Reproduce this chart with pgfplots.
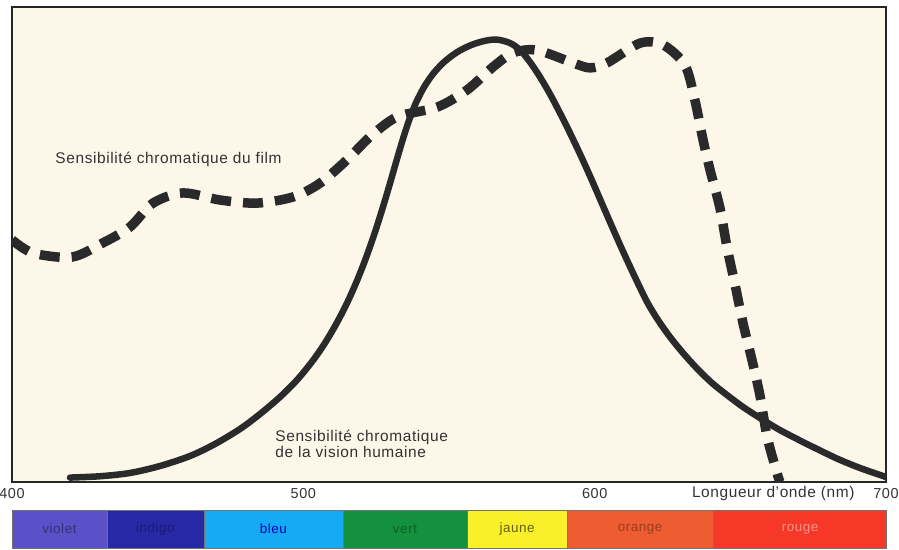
\documentclass[border=0pt]{standalone}
\usepackage{pgfplots}
\pgfplotsset{compat=1.18}
\usepackage{fontspec}
\setmainfont{Liberation Sans}[LetterSpace=4]
\definecolor{cream}{RGB}{252,247,232}
\definecolor{curve}{RGB}{42,42,42}
\definecolor{cviolet}{RGB}{90,80,200}
\definecolor{cindigo}{RGB}{38,40,165}
\definecolor{cbleu}{RGB}{22,170,245}
\definecolor{cvert}{RGB}{20,145,62}
\definecolor{cjaune}{RGB}{250,240,42}
\definecolor{corange}{RGB}{238,92,50}
\definecolor{crouge}{RGB}{245,56,40}

\pgfplotstableread{
nm val
419.91 1.0
430.21 1.3
440.50 2.04
450.80 3.62
461.10 5.88
469.68 8.60
478.26 11.99
485.13 15.38
491.99 19.23
497.83 23.08
502.98 27.22
507.09 31.09
511.21 35.66
514.99 40.48
518.42 45.54
521.51 50.72
524.60 56.54
527.35 62.26
529.75 67.58
532.15 73.08
534.21 77.65
536.27 81.79
538.67 85.81
541.42 89.32
544.51 92.33
548.28 95.00
552.75 97.24
557.55 98.85
562.36 99.82
566.48 100.09
570.94 99.32
574.37 97.74
577.80 95.02
581.24 91.63
584.67 87.78
588.10 83.48
591.53 78.96
594.97 74.21
598.40 69.23
601.83 64.03
605.95 57.78
609.73 52.17
613.85 46.33
617.96 40.77
621.74 36.65
625.86 32.81
630.32 29.19
635.13 25.68
640.28 22.40
645.42 19.68
650.92 16.97
656.75 14.48
662.93 11.99
669.45 9.73
676.32 7.47
683.52 5.20
691.08 3.17
700.00 1.13
}\vision

\pgfplotstableread{
nm val
400.0 54.8
407.2 51.8
420.6 50.9
431.2 54.1
440.5 57.7
448.4 63.1
458.7 65.4
471.4 63.8
484.1 63.1
496.5 64.5
505.7 67.6
515.0 72.9
522.9 78.1
532.2 82.6
545.9 84.8
556.2 88.7
565.1 93.9
572.0 97.1
580.2 97.7
592.6 94.8
598.4 93.7
604.2 94.8
615.6 99.3
623.5 98.9
631.0 94.3
634.4 86.4
637.2 77.4
639.6 70.6
643.0 62.0
645.4 53.2
648.2 44.6
650.9 36.0
654.0 27.6
656.7 19.7
659.2 10.2
662.6 2.0
663.6 0.0
}\film

\begin{document}
\begin{tikzpicture}
\path[use as bounding box] (-12bp,-68bp) rectangle (887bp,482bp);
\begin{axis}[
  name=main, at={(0,0)}, anchor=south west,
  scale only axis, width=874bp, height=475bp,
  xmin=400, xmax=700, ymin=0, ymax=107.47,
  axis background/.style={fill=cream},
  axis line style={draw=black!85, line width=1.2bp},
  xtick={400,500,600,700}, ytick=\empty,
  major tick length=0pt,
  xticklabel style={anchor=center, yshift=-12bp, font=\fontsize{14.5}{16}\selectfont, text=black!80},
  /pgf/number format/assume math mode=true,
  /pgf/number format/set thousands separator={},
  clip=true,
]
\addplot[curve, line width=6.5bp, smooth, line cap=round] table[x=nm, y=val] {\vision};
\addplot[curve, line width=9.5bp, smooth, dash pattern=on 20bp off 12bp] table[x=nm, y=val] {\film};
\node[anchor=west, text=black!80, font=\fontsize{15.5}{18}\selectfont] at (axis cs:413.7,72.9) {Sensibilité chromatique du film};
\node[anchor=west, align=left, text=black!80, font=\fontsize{15.5}{16.5}\selectfont] at (axis cs:489.2,8.6) {Sensibilité chromatique\\de la vision humaine};
\end{axis}
\node[anchor=east, text=black!80, font=\fontsize{15.5}{17}\selectfont] at (846bp,-12bp) {Longueur d'onde (nm)};

\begin{axis}[
  at={(0,-28bp)}, anchor=north west,
  scale only axis, width=874bp, height=38bp,
  xmin=400, xmax=700, ymin=0, ymax=1,
  hide axis, clip=false,
]
\addplot[fill=cviolet, draw=black!55, line width=0.6bp] coordinates {(400,0)(400,1)(432.6,1)(432.6,0)} -- cycle;
\addplot[fill=cindigo, draw=black!55, line width=0.6bp] coordinates {(432.6,0)(432.6,1)(465.9,1)(465.9,0)} -- cycle;
\addplot[fill=cbleu, draw=black!55, line width=0.6bp] coordinates {(465.9,0)(465.9,1)(513.6,1)(513.6,0)} -- cycle;
\addplot[fill=cvert, draw=black!55, line width=0.6bp] coordinates {(513.6,0)(513.6,1)(556.2,1)(556.2,0)} -- cycle;
\addplot[fill=cjaune, draw=black!55, line width=0.6bp] coordinates {(556.2,0)(556.2,1)(590.5,1)(590.5,0)} -- cycle;
\addplot[fill=corange, draw=black!55, line width=0.6bp] coordinates {(590.5,0)(590.5,1)(640.6,1)(640.6,0)} -- cycle;
\addplot[fill=crouge, draw=black!55, line width=0.6bp] coordinates {(640.6,0)(640.6,1)(700,1)(700,0)} -- cycle;
\node[text=cviolet!60!black, font=\fontsize{13.5}{15}\selectfont] at (axis cs:416.3,0.5) {violet};
\node[text=cindigo!70!black, font=\fontsize{13.5}{15}\selectfont] at (axis cs:449.2,0.5) {indigo};
\node[text=blue!70!black, font=\fontsize{13.5}{15}\selectfont] at (axis cs:489.7,0.5) {bleu};
\node[text=cvert!65!black, font=\fontsize{13.5}{15}\selectfont] at (axis cs:534.9,0.5) {vert};
\node[text=cjaune!40!black, font=\fontsize{13.5}{15}\selectfont] at (axis cs:573.4,0.5) {jaune};
\node[text=corange!65!black, font=\fontsize{13.5}{15}\selectfont] at (axis cs:615.6,0.5) {orange};
\node[text=crouge!55!white, font=\fontsize{13.5}{15}\selectfont] at (axis cs:670.5,0.5) {rouge};
\end{axis}
\end{tikzpicture}
\end{document}
